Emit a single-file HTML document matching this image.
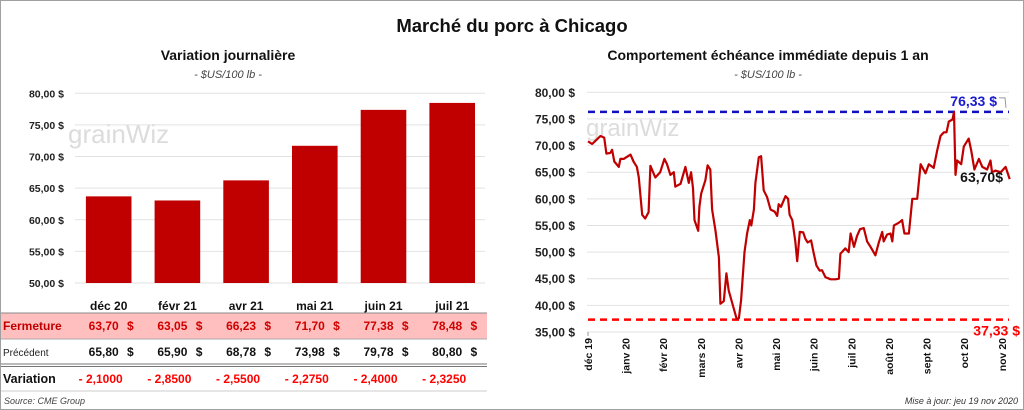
<!DOCTYPE html>
<html><head><meta charset="utf-8"><style>
body{margin:0;background:#fff;}
svg{display:block;font-family:"Liberation Sans",Arial,sans-serif;}
</style></head><body>
<svg width="1024" height="410" viewBox="0 0 1024 410" xmlns="http://www.w3.org/2000/svg">
<rect x="0.5" y="0.5" width="1023" height="409" fill="#fff" stroke="#a0a0a0"/>
<text x="512" y="32" text-anchor="middle" font-size="18.5" font-weight="bold" fill="#111">Marché du porc à Chicago</text>
<text x="228" y="60" text-anchor="middle" font-size="14" font-weight="bold" fill="#111">Variation  journalière</text>
<text x="228" y="78" text-anchor="middle" font-size="11" font-style="italic" fill="#444">- $US/100 lb -</text>
<text x="768" y="60" text-anchor="middle" font-size="14" font-weight="bold" fill="#111">Comportement  échéance immédiate depuis 1 an</text>
<text x="768" y="78" text-anchor="middle" font-size="11" font-style="italic" fill="#444">- $US/100 lb -</text>
<g id="left"></g>
<g id="table"></g>
<g id="right"></g>
<text x="4" y="404" font-size="9" font-style="italic" fill="#444">Source: CME Group</text>
<text x="1018" y="404" text-anchor="end" font-size="9" font-style="italic" fill="#333">Mise à jour: jeu 19 nov 2020</text>
</svg>
<script>
const NS="http://www.w3.org/2000/svg";
const barCats=["déc 20","févr 21","avr 21","mai 21","juin 21","juil 21"];
const closeVals=[63.70,63.05,66.23,71.70,77.38,78.48];
const prevVals=[65.80,65.90,68.78,73.98,79.78,80.80];
const varVals=["- 2,1000","- 2,8500","- 2,5500","- 2,2750","- 2,4000","- 2,3250"];
const leftTicks=[50,55,60,65,70,75,80];
const lineMonths=["déc 19","janv 20","févr 20","mars 20","avr 20","mai 20","juin 20","juil 20","août 20","sept 20","oct 20","nov 20"];
const rightTicks=[35,40,45,50,55,60,65,70,75,80];
const lineT=[0,.11,.2,.33,.43,.49,.59,.64,.7,.82,.86,.95,1.13,1.21,1.3,1.35,1.44,1.52,1.61,1.66,1.79,1.92,2.03,2.1,2.19,2.28,2.32,2.46,2.59,2.68,2.74,2.79,2.83,2.93,2.96,3.01,3.12,3.18,3.25,3.3,3.39,3.48,3.52,3.61,3.68,3.74,3.87,3.95,4.01,4.07,4.16,4.23,4.3,4.34,4.41,4.45,4.54,4.6,4.67,4.76,4.85,4.96,5.03,5.07,5.13,5.25,5.32,5.36,5.43,5.51,5.56,5.63,5.72,5.78,5.84,5.93,6.0,6.07,6.16,6.22,6.31,6.45,6.58,6.67,6.71,6.84,6.93,6.98,7.07,7.15,7.23,7.33,7.42,7.51,7.64,7.73,7.82,7.86,7.95,8.04,8.09,8.13,8.26,8.35,8.41,8.53,8.62,8.75,8.84,8.97,9.06,9.19,9.28,9.37,9.46,9.53,9.59,9.69,9.73,9.77,9.81,9.92,9.99,10.12,10.19,10.27,10.39,10.48,10.61,10.7,10.74,10.83,10.97,11.1,11.21];
const lineV=[70.8,70.3,70.9,71.8,71.5,68.5,68.6,69.2,67,66,67.5,67.5,68.3,67,66,64,57,56.3,57.5,66.2,64,65,67.5,66.5,64.5,65,62.3,62.8,66,63,65,62,56,54,58.5,61,63.5,66.3,65.5,58,54,49,40.3,40.8,46,42.8,39.5,37.5,37.6,41,50,53.5,56,55,58,63,67.8,68,61.6,60.3,58,57.6,56.8,59,58.5,60.5,60,57,56,52,48.3,53.8,53.7,52.5,51.8,52.2,49.8,47.5,46.5,46.6,45.3,44.9,44.9,45,49.7,50.7,50,53.5,51,53,54.3,54.5,52,51,49.4,51.8,53.8,52,53.3,53.5,52,55,55.5,56,53.5,53.5,60,60,66.5,64.8,66.5,65.8,69,71.8,72.5,72.5,74.5,74.9,76.3,64.5,67.2,66.5,69.8,71.3,69,65.5,67.5,66,65.5,67.2,65,65.3,65,66,63.7];
const highVal=76.33, lowVal=37.33, lastVal=63.70;

function el(tag,attrs,parent,text){const e=document.createElementNS(NS,tag);for(const k in attrs)e.setAttribute(k,attrs[k]);if(text!==undefined)e.textContent=text;parent.appendChild(e);return e;}
const fmt=v=>v.toFixed(2).replace('.',',');

const L=document.getElementById('left');
const ly=v=>283-(v-50)*(283-93.3)/30;
const lx=i=>108.7+i*68.7;
el('text',{x:68,y:143,'font-size':26,fill:'#dcdcdc'},L,'grainWiz');
for(const t of leftTicks){
  const g=el('line',{x1:75,x2:485,y1:ly(t),y2:ly(t),stroke:'#e2e2e2','stroke-width':1},L);
  
  const tx=el('text',{x:64,y:ly(t)+4,'text-anchor':'end','font-size':10.5,'font-weight':'bold',fill:'#222'},L,fmt(t)+' $');
  
}
closeVals.forEach((v,i)=>{
  const r=el('rect',{x:lx(i)-22.8,y:ly(v),width:45.6,height:283-ly(v),fill:'#c00000'},L);
  
});
const T=document.getElementById('table');
el('rect',{x:1,y:313,width:486,height:26,fill:'#ffbfbf'},T);
el('line',{x1:1,x2:487,y1:313,y2:313,stroke:'#888'},T);
el('line',{x1:1,x2:487,y1:339,y2:339,stroke:'#aaa'},T);
el('line',{x1:1,x2:487,y1:364,y2:364,stroke:'#777','stroke-width':1},T);
el('line',{x1:1,x2:487,y1:366.5,y2:366.5,stroke:'#777','stroke-width':1},T);
el('line',{x1:1,x2:487,y1:391,y2:391,stroke:'#ccc'},T);
el('text',{x:3,y:330,'font-size':12,'font-weight':'bold',fill:'#c00000'},T,'Fermeture');
el('text',{x:3,y:356,'font-size':10,fill:'#222'},T,'Précédent');
el('text',{x:3,y:383,'font-size':12.5,'font-weight':'bold',fill:'#111'},T,'Variation');
barCats.forEach((c,i)=>{
  const x=lx(i);
  const h=el('text',{x:x,y:310,'text-anchor':'middle','font-size':12,'font-weight':'bold',fill:'#111'},T,c);
  
  const a=el('text',{x:x+10,y:330,'text-anchor':'end','font-size':12,'font-weight':'bold',fill:'#d00000'},T,fmt(closeVals[i]));
  
  el('text',{x:x+25,y:330,'text-anchor':'end','font-size':12,'font-weight':'bold',fill:'#d00000'},T,'$');
  const b=el('text',{x:x+10,y:356,'text-anchor':'end','font-size':12,'font-weight':'bold',fill:'#111'},T,fmt(prevVals[i]));
  
  el('text',{x:x+25,y:356,'text-anchor':'end','font-size':12,'font-weight':'bold',fill:'#111'},T,'$');
  const d=el('text',{x:x+14,y:383,'text-anchor':'end','font-size':12,'font-weight':'bold',fill:'#ff0000'},T,varVals[i]);
  
});
const R=document.getElementById('right');
const ry=v=>332-(v-35)*(332-92.3)/45;
const rx=m=>588+m*37.62;
el('text',{x:586,y:136,'font-size':24,fill:'#dcdcdc'},R,'grainWiz');
for(const t of rightTicks){
  const g=el('line',{x1:587,x2:1009,y1:ry(t),y2:ry(t),stroke:'#e2e2e2'},R);
  
  const tx=el('text',{x:575,y:ry(t)+4.5,'text-anchor':'end','font-size':12,'font-weight':'bold',fill:'#222'},R,fmt(t)+' $');
  
}
el('line',{x1:588,x2:588,y1:332,y2:336,stroke:'#999'},R);
lineMonths.forEach((m,i)=>{
  const x=rx(i);
  const t=el('text',{transform:`translate(${x+4},338) rotate(-90)`,'text-anchor':'end','font-size':10.5,'font-weight':'bold',fill:'#111'},R,m);
  
});
const hi=el('line',{x1:588,x2:1009,y1:ry(highVal),y2:ry(highVal),stroke:'#1010c0','stroke-width':2.5,'stroke-dasharray':'7,5'},R);

const lo=el('line',{x1:588,x2:1009,y1:ry(lowVal),y2:ry(lowVal),stroke:'#ff0000','stroke-width':2.5,'stroke-dasharray':'7,5'},R);

const pts=lineT.map((t,i)=>rx(t).toFixed(1)+','+ry(lineV[i]).toFixed(1)).join(' ');
const pl=el('polyline',{points:pts,fill:'none',stroke:'#c00000','stroke-width':2.2,'stroke-linejoin':'round'},R);

const ht=el('text',{x:997,y:ry(highVal)-6,'text-anchor':'end','font-size':14,'font-weight':'bold',fill:'#1a1ad0'},R,fmt(highVal)+' $');

el('polyline',{points:`999,${ry(highVal)-14} 1005,${ry(highVal)-14} 1006,${ry(highVal)-4}`,fill:'none',stroke:'#999'},R);
const lt=el('text',{x:1020,y:ry(lowVal)+16,'text-anchor':'end','font-size':14,'font-weight':'bold',fill:'#ff0000'},R,fmt(lowVal)+' $');

const ct=el('text',{x:1003,y:ry(lastVal)+3,'text-anchor':'end','font-size':14,'font-weight':'bold',fill:'#111'},R,fmt(lastVal)+'$');

</script>
</body></html>
